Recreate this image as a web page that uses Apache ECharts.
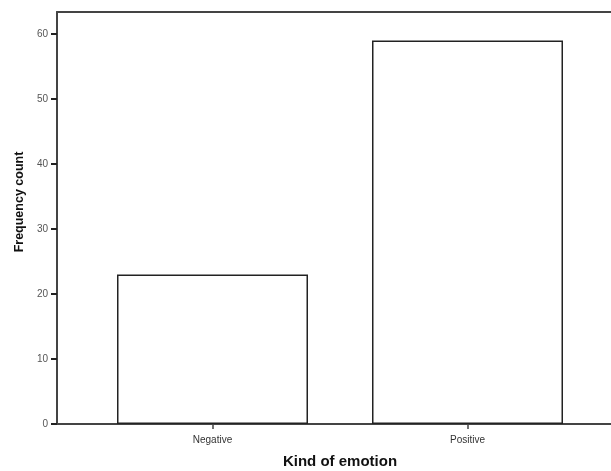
<!DOCTYPE html>
<html><head><meta charset="utf-8">
<script src="https://cdn.jsdelivr.net/npm/echarts@6/dist/echarts.min.js"></script>
<style>html,body{margin:0;padding:0;background:#fff}#c{width:611px;height:471px}</style>
</head><body><div id="c"></div>
<script>
const categories = ['Negative', 'Positive'];
const counts = [23, 59];
const yTicks = [0, 10, 20, 30, 40, 50, 60];

const chart = echarts.init(document.getElementById('c'), null, {renderer: 'canvas'});
const font = 'Liberation Sans, Arial, sans-serif';
const axisColor = '#444';
chart.setOption({
  animation: false,
  grid: [
    {left: 85, right: 16, top: 12, bottom: 47, outerBoundsMode: 'none', containLabel: false},
    {left: 57, right: -2, top: 12, bottom: 47, outerBoundsMode: 'none', containLabel: false}
  ],
  xAxis: [
    {
      type: 'category', gridIndex: 0, data: categories,
      axisLine: {show: false},
      axisTick: {show: true, alignWithLabel: true, length: 5, lineStyle: {color: axisColor, width: 1.5}},
      axisLabel: {color: '#333', fontSize: 10, fontFamily: font, margin: 11},
      name: 'Kind of emotion', nameLocation: 'middle', nameGap: 30,
      nameTextStyle: {fontSize: 15, fontWeight: 'bold', color: '#111', fontFamily: font}
    },
    {
      type: 'value', gridIndex: 1, min: 0, max: 1,
      axisLine: {show: true, onZero: false, lineStyle: {color: axisColor, width: 2}},
      axisTick: {show: false}, axisLabel: {show: false}, splitLine: {show: false}
    },
    {
      type: 'value', gridIndex: 1, min: 0, max: 1, position: 'top',
      axisLine: {show: true, onZero: false, lineStyle: {color: axisColor, width: 2}},
      axisTick: {show: false}, axisLabel: {show: false}, splitLine: {show: false}
    }
  ],
  yAxis: [
    {
      type: 'value', gridIndex: 0, min: 0, max: 63.4, show: false
    },
    {
      type: 'value', gridIndex: 1, min: 0, max: 63.4, interval: 10,
      axisLine: {show: true, onZero: false, lineStyle: {color: axisColor, width: 2}},
      axisTick: {show: true, length: 6, customValues: yTicks, lineStyle: {color: '#222', width: 2}},
      axisLabel: {color: '#555', fontSize: 10, fontFamily: font, margin: 9, customValues: yTicks,
        formatter: v => yTicks.includes(v) ? String(v) : ''},
      splitLine: {show: false},
      name: 'Frequency count', nameLocation: 'middle', nameGap: 26, nameRotate: 90,
      nameTextStyle: {fontSize: 12.5, fontWeight: 'bold', color: '#111', fontFamily: font,
        padding: [0, 0, 0, 32]}
    }
  ],
  series: [{
    type: 'bar', xAxisIndex: 0, yAxisIndex: 0, data: counts,
    barWidth: 191,
    itemStyle: {color: '#fff', borderColor: '#222', borderWidth: 1.5}
  }]
});
</script></body></html>
